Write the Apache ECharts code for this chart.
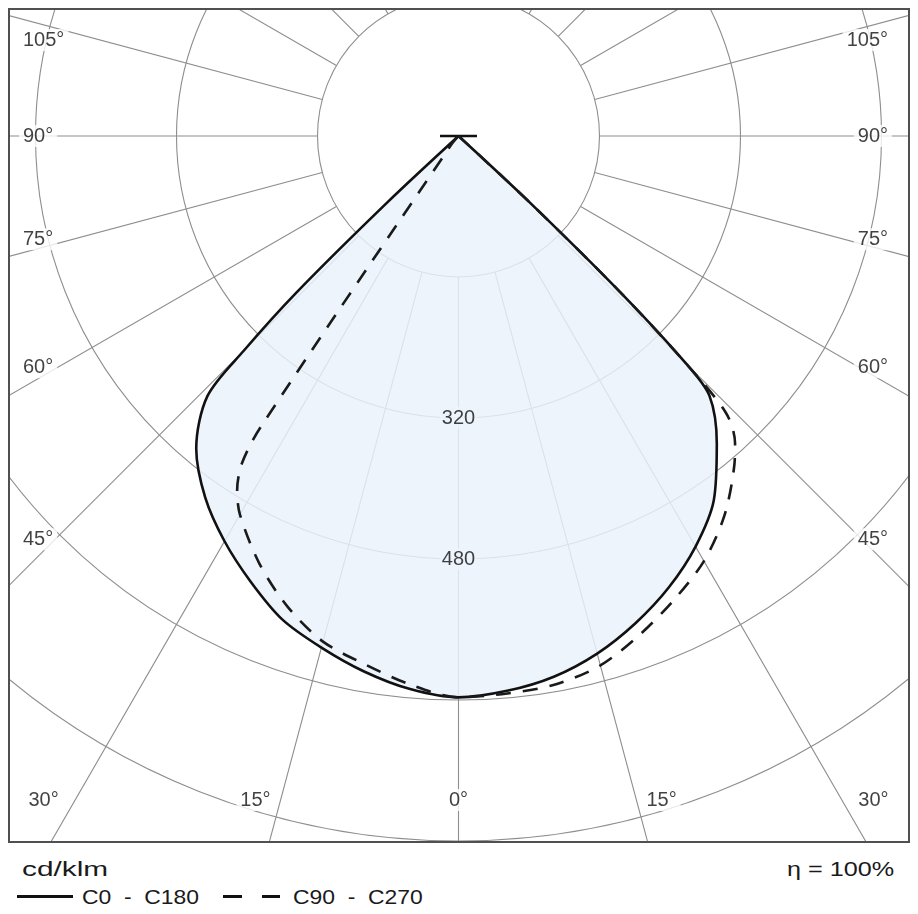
<!DOCTYPE html>
<html>
<head>
<meta charset="utf-8">
<script src="https://cdn.jsdelivr.net/npm/echarts@6/dist/echarts.min.js"></script>
<style>
html,body{margin:0;padding:0;background:#fff;width:918px;height:914px;overflow:hidden;font-family:'Liberation Sans',Arial,sans-serif;color:#222}
#frame{position:absolute;left:8px;top:8px;width:902px;height:835px;border:2px solid #505050;box-sizing:border-box;background:#fff}
#chart{position:absolute;left:0;top:0;width:898px;height:831px}
.t{position:absolute;white-space:pre;font-size:21px;line-height:21px;color:#1a1a1a;transform-origin:0 50%}
.ls{position:absolute;height:0;border-top:3px solid #111}
</style>
</head>
<body>
<div id="frame"><div id="chart"></div></div>
<div class="t" style="left:22px;top:858px;transform:scaleX(1.42)">cd/klm</div>
<div class="ls" style="left:17px;top:895px;width:56px"></div>
<div class="t" style="left:82px;top:886px;transform:scaleX(1.09)">C0  -  C180</div>
<div class="ls" style="left:223px;top:895px;width:19px"></div>
<div class="ls" style="left:262px;top:895px;width:18px"></div>
<div class="t" style="left:293px;top:886px;transform:scaleX(1.09)">C90  -  C270</div>
<div class="t" style="left:787px;top:858px;transform:scaleX(1.2)">η = 100%</div>
<script>
// ---- data (angles in degrees from nadir; positive = left half, negative = right half) ----
const angleTicks = [0, 15, 30, 45, 60, 75, 90, 105];
const ringLabels = [320, 480];

const c0c180Angles = [-180, -95, -90, -85, -50, -47, -46, -45, -44, -40, -35, -30, -25, -20, -15, -10, -5,
  0, 5, 10, 15, 20, 25, 30, 35, 40, 44, 45, 46, 47, 50, 85, 90, 95, 180];
const c0c180Values = [0, 0, 21, 0, 0, 110, 255, 365, 410, 456, 505, 538, 565, 588, 608, 623, 632,
  637, 630, 617, 601, 584, 558, 531, 501, 463, 410, 345, 255, 110, 0, 0, 21, 0, 0];

const c90c270Angles = [-180, -50, -47, -46, -45, -44, -42, -40, -35, -30, -25, -20, -15, -10, -5,
  0, 5, 10, 15, 20, 25, 30, 32, 33.5, 34.2, 40, 45, 180];
const c90c270Values = [0, 0, 110, 255, 365, 437, 469, 487, 526, 557, 580, 602, 622, 632, 635,
  637, 625, 609, 594, 568, 535, 496, 474, 445, 400, 12, 0, 0];

// ---- layout ----
const cx = 448.5, cy = 126;          // polar centre inside the frame
const ringPx = 141;                  // pixels per 160 cd/klm
const radMax = 1120;
const pxPerUnit = ringPx / 160;
const outerPx = radMax * pxPerUnit;

function toPolar(x, y) {
  const dx = x - cx, dy = y - cy;
  return [Math.hypot(dx, dy) / pxPerUnit, Math.atan2(-dx, dy) * 180 / Math.PI];
}

const angleLabelData = [];
angleTicks.forEach(a => {
  [1, -1].forEach(s => {
    if (a === 0 && s === -1) return;
    let x, y, pos;
    if (a === 0) {
      x = cx; y = 790; pos = 'inside';
    } else {
      const tilt = a < 90 ? 1.2 : (a > 90 ? -2 : 0);
      const g = (a + tilt) * Math.PI / 180;
      const dirx = -s * Math.sin(g), diry = Math.cos(g);
      const xEdge = s > 0 ? 28 : 869;
      const t = (xEdge - cx) / dirx;
      const ySide = cy + t * diry;
      if (ySide <= 790) {
        y = Math.max(ySide, 30);
        x = s > 0 ? 9 : 882;
        pos = s > 0 ? 'right' : 'left';
      } else {
        const gb = (a + 2) * Math.PI / 180;
        y = 790;
        x = cx - s * (790 - cy) * Math.tan(gb);
        pos = 'inside';
      }
    }
    angleLabelData.push({
      name: a + '°',
      value: toPolar(x, y),
      label: { position: pos }
    });
  });
});

const gridColor = '#8e8e8e';
const chart = echarts.init(document.getElementById('chart'), null, { renderer: 'canvas' });
chart.setOption({
  animation: false,
  polar: [
    { center: [cx, cy], radius: [ringPx, 1150] },
    { center: [cx, cy], radius: [0, outerPx] }
  ],
  angleAxis: [
    { polarIndex: 0, type: 'value', min: -180, max: 180, interval: 15, startAngle: 90, clockwise: true,
      axisLine: { show: false }, axisTick: { show: false }, axisLabel: { show: false },
      splitLine: { show: true, lineStyle: { color: gridColor, width: 1.1 } } },
    { polarIndex: 1, type: 'value', min: -180, max: 180, interval: 15, startAngle: 90, clockwise: true,
      axisLine: { show: false }, axisTick: { show: false }, axisLabel: { show: false },
      splitLine: { show: false } }
  ],
  radiusAxis: [
    { polarIndex: 0, type: 'value', min: 0, max: 1,
      axisLine: { show: false }, axisTick: { show: false }, axisLabel: { show: false }, splitLine: { show: false } },
    { polarIndex: 1, type: 'value', min: 0, max: radMax, interval: 160,
      axisLine: { show: false }, axisTick: { show: false }, axisLabel: { show: false },
      splitLine: { show: true, lineStyle: { color: gridColor, width: 1.1 } } }
  ],
  series: [
    {
      name: 'C0 - C180', type: 'line', coordinateSystem: 'polar', polarIndex: 1,
      data: c0c180Angles.map((a, i) => [c0c180Values[i], a]),
      symbol: 'none', z: 3, smooth: 0.3,
      lineStyle: { color: '#111', width: 2.6 },
      areaStyle: { color: 'rgb(234,242,250)', opacity: 0.84 }
    },
    {
      name: 'C90 - C270', type: 'line', coordinateSystem: 'polar', polarIndex: 1,
      data: c90c270Angles.map((a, i) => [c90c270Values[i], a]),
      symbol: 'none', z: 4, smooth: 0.3,
      lineStyle: { color: '#1a1a1a', width: 2.6, type: [15, 12] }
    },
    {
      type: 'scatter', coordinateSystem: 'polar', polarIndex: 1, z: 5,
      symbolSize: 0, silent: true,
      data: ringLabels.map(v => [v, 0]),
      label: { show: true, position: 'inside', formatter: p => String(p.value[0]),
        color: '#111', fontSize: 20, fontFamily: 'Liberation Sans',
        backgroundColor: 'rgb(238,244,251)', padding: [1, 2] }
    },
    {
      type: 'scatter', coordinateSystem: 'polar', polarIndex: 1, z: 6,
      symbolSize: 0, silent: true,
      data: angleLabelData,
      label: { show: true, distance: 0, formatter: '{b}',
        color: '#111', fontSize: 20, fontFamily: 'Liberation Sans',
        backgroundColor: '#fff', padding: [1, 4] }
    }
  ]
});
</script>
</body>
</html>
